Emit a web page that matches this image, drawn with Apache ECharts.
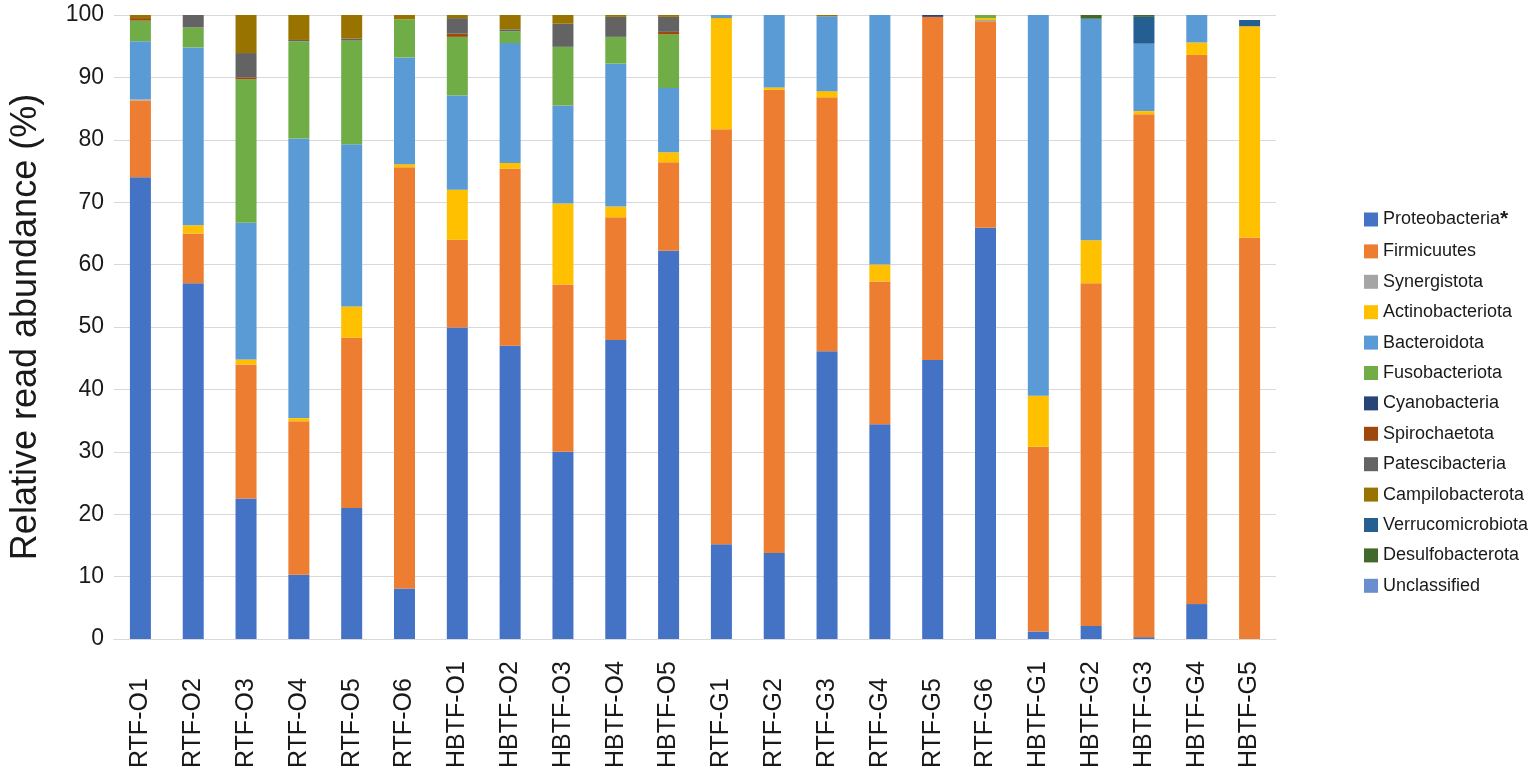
<!DOCTYPE html>
<html>
<head>
<meta charset="utf-8">
<script src="https://cdn.jsdelivr.net/npm/echarts@6/dist/echarts.min.js"></script>
<style>
html,body{margin:0;padding:0;background:#fff;}
#chart{width:1536px;height:774px;}
</style>
</head>
<body>
<div id="chart"></div>
<script>
var categories = ['RTF-O1','RTF-O2','RTF-O3','RTF-O4','RTF-O5','RTF-O6','HBTF-O1','HBTF-O2','HBTF-O3','HBTF-O4','HBTF-O5','RTF-G1','RTF-G2','RTF-G3','RTF-G4','RTF-G5','RTF-G6','HBTF-G1','HBTF-G2','HBTF-G3','HBTF-G4','HBTF-G5'];
var yTicks = [0,10,20,30,40,50,60,70,80,90,100];

var proteobacteria   = [74, 57, 22.5, 10.3, 21, 8.1, 49.9, 47, 30, 47.9, 62.2, 15.2, 13.8, 46.1, 34.4, 44.7, 65.9, 1.2, 2.1, 0.3, 5.6, 0];
var firmicuutes      = [12.3, 8, 21.5, 24.6, 27.3, 67.5, 14.1, 28.4, 26.8, 19.7, 14.2, 66.5, 74.2, 40.7, 22.9, 55.0, 33.1, 29.6, 54.9, 83.8, 88.0, 64.3];
var synergistota     = [0.2, 0, 0, 0, 0, 0, 0, 0, 0, 0, 0, 0, 0, 0, 0, 0, 0.2, 0, 0, 0, 0, 0];
var actinobacteriota = [0, 1.3, 0.8, 0.5, 5.0, 0.5, 8.0, 0.9, 13, 1.7, 1.6, 17.8, 0.4, 1.0, 2.7, 0, 0.3, 8.2, 6.9, 0.5, 2.0, 33.9];
var bacteroidota     = [9.3, 28.5, 21.9, 44.8, 26.0, 17.1, 15.1, 19.2, 15.7, 22.9, 10.3, 0.5, 11.6, 12.0, 40, 0, 0, 61, 35.5, 10.8, 4.4, 0];
var fusobacteriota   = [3.3, 3.2, 23.0, 15.6, 16.6, 6.1, 9.4, 1.9, 9.4, 4.3, 8.6, 0, 0, 0, 0, 0, 0.5, 0, 0, 0, 0, 0];
var cyanobacteria    = [0, 0, 0, 0, 0, 0, 0, 0, 0, 0, 0, 0, 0, 0, 0, 0.3, 0, 0, 0, 0, 0, 0];
var spirochaetota    = [0.4, 0, 0.3, 0, 0, 0, 0.5, 0, 0, 0, 0.4, 0, 0, 0, 0, 0, 0, 0, 0, 0, 0, 0];
var patescibacteria  = [0, 2.0, 3.9, 0.2, 0.3, 0, 2.5, 0.3, 3.7, 3.2, 2.4, 0, 0, 0, 0, 0, 0, 0, 0, 0, 0, 0];
var campilobacterota = [0.5, 0, 6.1, 4.0, 3.8, 0.7, 0.6, 2.3, 1.4, 0.3, 0.3, 0, 0, 0.2, 0, 0, 0, 0, 0, 0, 0, 0];
var verrucomicrobiota= [0, 0, 0, 0, 0, 0, 0, 0, 0, 0, 0, 0, 0, 0, 0, 0, 0, 0, 0, 4.3, 0, 1.0];
var desulfobacterota = [0, 0, 0, 0, 0, 0, 0, 0, 0, 0, 0, 0, 0, 0, 0, 0, 0, 0, 0.6, 0.3, 0, 0];
var unclassified     = [0, 0, 0, 0, 0, 0, 0, 0, 0, 0, 0, 0, 0, 0, 0, 0, 0, 0, 0, 0, 0, 0];

var seriesNames = ['Proteobacteria','Firmicuutes','Synergistota','Actinobacteriota','Bacteroidota','Fusobacteriota','Cyanobacteria','Spirochaetota','Patescibacteria','Campilobacterota','Verrucomicrobiota','Desulfobacterota','Unclassified'];
var seriesData = [proteobacteria, firmicuutes, synergistota, actinobacteriota, bacteroidota, fusobacteriota, cyanobacteria, spirochaetota, patescibacteria, campilobacterota, verrucomicrobiota, desulfobacterota, unclassified];
var colors = ['#4472C4','#ED7D31','#A5A5A5','#FFC000','#5B9BD5','#70AD47','#264478','#9E480E','#636363','#997300','#255E91','#43682B','#698ED0'];

var FONT = '"Liberation Sans", Arial, Helvetica, sans-serif';

var series = seriesNames.map(function (n, i) {
  return {
    name: n,
    type: 'bar',
    stack: 'total',
    barWidth: 21,
    data: seriesData[i],
    itemStyle: { color: colors[i] },
    emphasis: { disabled: true }
  };
});

var chart = echarts.init(document.getElementById('chart'), null, { renderer: 'canvas' });
chart.setOption({
  animation: false,
  backgroundColor: '#ffffff',
  color: colors,
  grid: { left: 110, right: 260, top: 15, bottom: 135, containLabel: false },
  legend: {
    orient: 'vertical',
    left: 1359,
    top: 204,
    itemWidth: 14,
    itemHeight: 14,
    itemGap: 12.4,
    icon: 'rect',
    data: seriesNames,
    selectedMode: false,
    formatter: function (name) {
      return name === 'Proteobacteria' ? '{t|' + name + '}{s|*}' : '{t|' + name + '}';
    },
    textStyle: {
      fontFamily: FONT,
      fontSize: 18,
      color: '#1a1a1a',
      lineHeight: 18,
      rich: {
        t: { fontFamily: FONT, fontSize: 18, color: '#1a1a1a', lineHeight: 18, height: 18 },
        s: { fontFamily: FONT, fontSize: 21, fontWeight: 'bold', color: '#1a1a1a', lineHeight: 18, height: 18 }
      }
    }
  },
  xAxis: {
    type: 'category',
    data: categories,
    axisLine: { show: true, lineStyle: { color: '#D9D9D9', width: 1 } },
    axisTick: { show: false },
    axisLabel: {
      rotate: 90,
      margin: 10,
      interval: 0,
      formatter: function (v) { return '{a|' + v + '}'; },
      rich: {
        a: { width: 119, align: 'left', fontFamily: FONT, fontSize: 25, color: '#1a1a1a' }
      }
    }
  },
  yAxis: {
    type: 'value',
    min: 0,
    max: 100,
    interval: 10,
    name: 'Relative read abundance (%)',
    nameLocation: 'middle',
    nameGap: 70,
    nameTextStyle: { fontFamily: FONT, fontSize: 36, color: '#1a1a1a' },
    axisLine: { show: false },
    axisTick: { show: false },
    splitLine: { show: true, lineStyle: { color: '#D9D9D9', width: 1 } },
    axisLabel: {
      margin: 10,
      fontFamily: FONT,
      fontSize: 23,
      color: '#1a1a1a',
      formatter: function (v) { return yTicks.indexOf(v) >= 0 ? String(v) : ''; }
    }
  },
  series: series
});
</script>
</body>
</html>
